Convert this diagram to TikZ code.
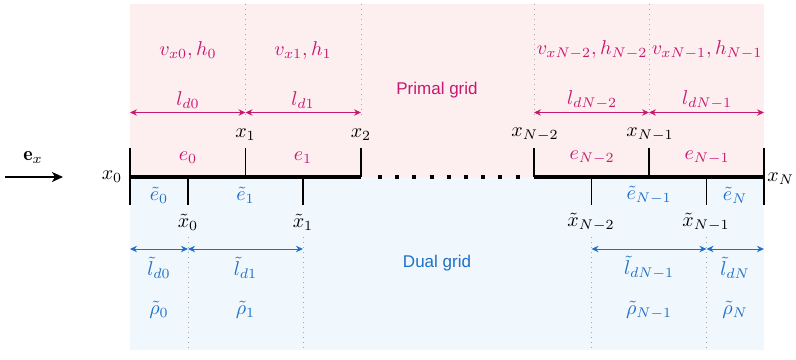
\documentclass[tikz,border=0pt]{standalone}
\usepackage{fontspec}
\usepackage{amsmath}
\newfontfamily\gridsans{Liberation Sans}
\usetikzlibrary{arrows.meta}
\definecolor{pmag}{RGB}{200,24,112}
\definecolor{dblue}{RGB}{30,112,200}
\definecolor{pbg}{RGB}{253,238,240}
\definecolor{dbg}{RGB}{240,247,253}
\begin{document}
\begin{tikzpicture}[x=0.5pt,y=-0.5pt,
  tickline/.style={line width=0.75pt,black},
  mainline/.style={line width=2pt,black},
  guide/.style={gray!70,dotted,line width=0.5pt},
  pdim/.style={pmag,line width=0.5pt,{Stealth[length=3.5pt,width=3.2pt]}-{Stealth[length=3.5pt,width=3.2pt]}},
  ddim/.style={dblue,line width=0.5pt,{Stealth[length=3.5pt,width=3.2pt]}-{Stealth[length=3.5pt,width=3.2pt]}},
  plab/.style={pmag,inner sep=0pt},
  dlab/.style={dblue,inner sep=0pt},
  blab/.style={black,inner sep=0pt}]
\useasboundingbox (0,0) rectangle (796,359);
% backgrounds
\fill[pbg] (130,4) rectangle (764,177);
\fill[dbg] (130,177) rectangle (764,350);
% guide lines
\foreach \gx/\gn in {245.5/a,361/b,534/c,649/d}{
  \coordinate (gt\gn) at (\gx,4); \coordinate (gb\gn) at (\gx,115);
  \draw[guide] (gt\gn) -- (gb\gn);}
\foreach \gx/\gn in {188/a,303/b,591.5/c,706.5/d}{
  \coordinate (ht\gn) at (\gx,237); \coordinate (hb\gn) at (\gx,350);
  \draw[guide] (ht\gn) -- (hb\gn);}
% main line
\coordinate (m0) at (130,177); \coordinate (m2) at (361,177);
\coordinate (mN2) at (534,177); \coordinate (mN) at (764,177);
\coordinate (dotA) at (378,177); \coordinate (dotB) at (521,177);
\draw[mainline] (m0) -- (m2);
\draw[mainline] (mN2) -- (mN);
\draw[line width=2pt,dash pattern=on 2pt off 6.6pt] (dotA) -- (dotB);
% primal ticks
\coordinate (t0u) at (130,148); \coordinate (t0d) at (130,205);
\coordinate (tNu) at (764,148); \coordinate (tNd) at (764,205);
\draw[tickline] (t0u) -- (t0d);
\draw[tickline] (tNu) -- (tNd);
\foreach \tx/\tn in {245.5/a,361/b,534/c,649/d}{
  \coordinate (pu\tn) at (\tx,148); \coordinate (pd\tn) at (\tx,177);
  \draw[tickline] (pu\tn) -- (pd\tn);}
\foreach \tx/\tn in {188/a,303/b,591.5/c,706.5/d}{
  \coordinate (du\tn) at (\tx,177); \coordinate (dd\tn) at (\tx,205);
  \draw[tickline] (du\tn) -- (dd\tn);}
% e_x arrow
\coordinate (exA) at (5,177); \coordinate (exB) at (63,177);
\draw[line width=0.9pt,-{Stealth[length=5.5pt,width=5pt,inset=1.5pt]}] (exA) -- (exB);
\node[blab] (ex) at (33,157) {$\mathbf{e}_x$};
% primal labels
\node[blab] (x0) at (112,177) {$x_0$};
\node[blab,anchor=west] (xN) at (767,179) {$x_N$};
\node[blab] (x1) at (245.5,135) {$x_1$};
\node[blab] (x2) at (361,135) {$x_2$};
\node[blab] (xN2) at (535,135) {$x_{N-2}$};
\node[blab] (xN1) at (650,135) {$x_{N-1}$};
\node[plab] (e0) at (188,158) {$e_0$};
\node[plab] (e1) at (303,158) {$e_1$};
\node[plab] (eN2) at (592,158) {$e_{N-2}$};
\node[plab] (eN1) at (707,158) {$e_{N-1}$};
% primal dims
\coordinate (pa0) at (130,112.5); \coordinate (pa1) at (245.5,112.5); \coordinate (pa2) at (361,112.5);
\coordinate (pb0) at (534,112.5); \coordinate (pb1) at (649,112.5); \coordinate (pb2) at (764,112.5);
\draw[pdim] (pa0) -- (pa1);
\draw[pdim] (pa1) -- (pa2);
\draw[pdim] (pb0) -- (pb1);
\draw[pdim] (pb1) -- (pb2);
\node[plab] (ld0) at (188,100) {$l_{d0}$};
\node[plab] (ld1) at (303,100) {$l_{d1}$};
\node[plab] (ldN2) at (592,100) {$l_{dN-2}$};
\node[plab] (ldN1) at (707,100) {$l_{dN-1}$};
\node[plab] (vh0) at (188,50) {$v_{x0}, h_0$};
\node[plab] (vh1) at (303,50) {$v_{x1}, h_1$};
\node[plab] (vhN2) at (592,50) {$v_{xN-2}, h_{N-2}$};
\node[plab] (vhN1) at (707,50) {$v_{xN-1}, h_{N-1}$};
\node[plab] (pg) at (437,90) {\gridsans\fontsize{8.5}{10}\selectfont Primal grid};
% dual labels
\node[dlab] (te0) at (159,195) {$\tilde{e}_0$};
\node[dlab] (te1) at (245.5,195) {$\tilde{e}_1$};
\node[dlab] (teN1) at (649,195) {$\tilde{e}_{N-1}$};
\node[dlab] (teN) at (735,195) {$\tilde{e}_N$};
\node[blab] (tx0) at (188,222) {$\tilde{x}_0$};
\node[blab] (tx1) at (303,222) {$\tilde{x}_1$};
\node[blab] (txN2) at (591,222) {$\tilde{x}_{N-2}$};
\node[blab] (txN1) at (706,222) {$\tilde{x}_{N-1}$};
\coordinate (da0) at (130,249); \coordinate (da1) at (188,249); \coordinate (da2) at (303,249);
\coordinate (db0) at (591.5,249); \coordinate (db1) at (706.5,249); \coordinate (db2) at (764,249);
\draw[ddim] (da0) -- (da1);
\draw[ddim] (da1) -- (da2);
\draw[ddim] (db0) -- (db1);
\draw[ddim] (db1) -- (db2);
\node[dlab] (tl0) at (159,268) {$\tilde{l}_{d0}$};
\node[dlab] (tl1) at (245.5,268) {$\tilde{l}_{d1}$};
\node[dlab] (tlN1) at (649,268) {$\tilde{l}_{dN-1}$};
\node[dlab] (tlN) at (735,268) {$\tilde{l}_{dN}$};
\node[dlab] (r0) at (159,310) {$\tilde{\rho}_0$};
\node[dlab] (r1) at (245.5,310) {$\tilde{\rho}_1$};
\node[dlab] (rN1) at (649,310) {$\tilde{\rho}_{N-1}$};
\node[dlab] (rN) at (735,310) {$\tilde{\rho}_N$};
\node[dlab] (dg) at (437,263) {\gridsans\fontsize{8.5}{10}\selectfont Dual grid};
\end{tikzpicture}
\end{document}
